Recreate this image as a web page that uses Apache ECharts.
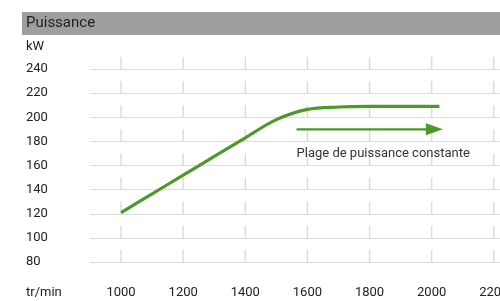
<!DOCTYPE html>
<html>
<head>
<meta charset="utf-8">
<script src="https://cdn.jsdelivr.net/npm/echarts@6/dist/echarts.min.js"></script>
<style>
  html, body { margin: 0; padding: 0; background: #fff; }
  #chart { width: 500px; height: 301px; }
</style>
</head>
<body>
<div id="chart"></div>
<script>
// régime moteur (tr/min) et puissance (kW)
var rpm = [1000, 1100, 1200, 1300, 1400, 1500, 1600, 1700, 1800, 1900, 2025];
var power = [121, 136.5, 152, 167.5, 183, 198, 206.5, 208.5, 209, 209, 209];
var xTicks = [1000, 1200, 1400, 1600, 1800, 2000, 2200];
var yTicks = [80, 100, 120, 140, 160, 180, 200, 220, 240];
// flèche "plage de puissance constante"
var arrowFrom = [1565, 190];
var arrowTo = [2036, 190];
var arrowText = "Plage de puissance constante";
var arrowTextAt = [1565, 170];

var FONT = "Roboto, sans-serif";
var GREEN = "#4b9a28";

var linePts = rpm.map(function(r, i) { return [r, power[i]]; });
var tickPts = [];
xTicks.forEach(function(x) {
  yTicks.forEach(function(y) { tickPts.push([x, y]); });
});

var myChart = echarts.init(document.getElementById("chart"));
myChart.setOption({
  animation: false,
  textStyle: { fontFamily: FONT },
  grid: { left: 90, right: 0, top: 69, bottom: 39, outerBoundsMode: "none", containLabel: false },
  graphic: [
    { type: "rect", left: 22, top: 12, shape: { width: 478, height: 23 }, style: { fill: "#9e9e9e" } },
    { type: "text", left: 26, top: 16, style: { text: "Puissance", font: "15px " + FONT, fill: "#222" } },
    { type: "text", left: 26, top: 40, style: { text: "kW", font: "13px " + FONT, fill: "#222" } },
    { type: "text", left: 26, top: 286, style: { text: "tr/min", font: "13px " + FONT, fill: "#222" } }
  ],
  xAxis: {
    type: "value",
    min: 900,
    max: 2220,
    axisLine: { show: false },
    axisTick: { show: false },
    splitLine: { show: false },
    axisLabel: {
      customValues: xTicks,
      formatter: function(v) { return String(v); },
      margin: 24,
      fontSize: 13,
      color: "#222",
      fontFamily: FONT
    }
  },
  yAxis: {
    type: "value",
    min: 80,
    max: 240,
    interval: 20,
    axisLine: { show: false },
    axisTick: { show: false },
    splitLine: { lineStyle: { color: "#dcdcdc", width: 1.2 } },
    axisLabel: {
      align: "left",
      margin: 64,
      fontSize: 13,
      color: "#222",
      fontFamily: FONT
    }
  },
  series: [
    {
      // petits traits verticaux au-dessus de chaque ligne de grille
      type: "custom",
      silent: true,
      clip: false,
      data: tickPts,
      renderItem: function(params, api) {
        var p0 = api.coord([api.value(0), api.value(1)]);
        var p1 = api.coord([api.value(0), api.value(1) + 10]);
        return {
          type: "line",
          shape: { x1: p0[0], y1: p0[1], x2: p1[0], y2: p1[1] },
          style: { stroke: "#dcdcdc", lineWidth: 1.5 }
        };
      },
      z: 1
    },
    {
      type: "line",
      data: linePts,
      smooth: 0.35,
      showSymbol: false,
      lineStyle: { color: GREEN, width: 3.2 },
      z: 3
    },
    {
      type: "custom",
      silent: true,
      clip: false,
      data: [[arrowFrom[0], arrowFrom[1], arrowTo[0], arrowTo[1]]],
      renderItem: function(params, api) {
        var a = api.coord([api.value(0), api.value(1)]);
        var b = api.coord([api.value(2), api.value(3)]);
        var t = api.coord(arrowTextAt);
        return {
          type: "group",
          children: [
            {
              type: "line",
              shape: { x1: a[0], y1: a[1], x2: b[0] - 12, y2: b[1] },
              style: { stroke: GREEN, lineWidth: 2.2 }
            },
            {
              type: "polygon",
              shape: { points: [[b[0], b[1]], [b[0] - 17, b[1] - 6], [b[0] - 17, b[1] + 6]] },
              style: { fill: GREEN }
            },
            {
              type: "text",
              style: {
                x: t[0], y: t[1], text: arrowText,
                font: "13px " + FONT, fill: "#333",
                align: "left", verticalAlign: "middle"
              }
            }
          ]
        };
      },
      z: 3
    }
  ]
});
</script>
</body>
</html>
